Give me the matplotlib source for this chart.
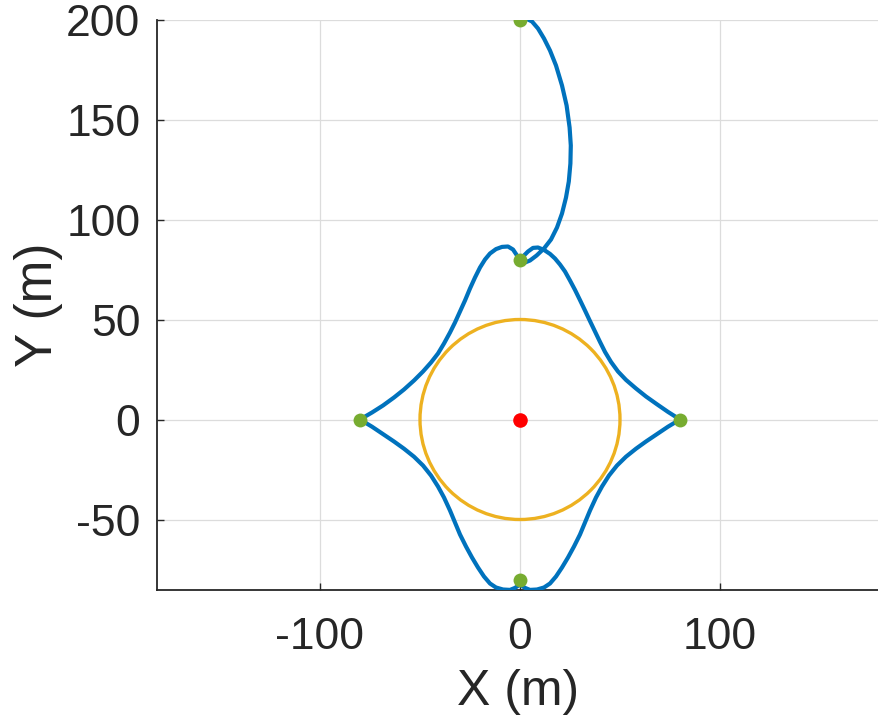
import matplotlib.pyplot as plt
from matplotlib.patches import Circle

plt.rcParams['font.family'] = ['Liberation Sans', 'DejaVu Sans']
plt.rcParams['axes.unicode_minus'] = False

# trajectory: approach from the top, then one lap round the four waypoints
path_x = [0, 3, 6, 9, 12, 15, 18, 21, 23.3, 24.8, 25.4, 25.2, 24.4, 23, 21, 18.5,
          15.5, 12, 8.3, 5, 2.5, 0.5, -1.5, -3.5, -6, -9, -12, -15, -17.5, -20,
          -22.5, -25, -27.5, -30, -32.5, -35, -38, -41, -44.5, -48.5, -53, -58,
          -63, -68.5, -74, -80,
          -74, -68.5, -63, -58, -53, -48.5, -44.5, -41, -38, -35, -32.5, -30, -27,
          -24, -21, -18, -15, -12, -8.5, -5, -2.5, 0, 2.5, 5, 8.5, 12, 15, 18, 21,
          24, 27, 30, 32.5, 35, 38, 41, 44.5, 48.5, 53, 58, 63, 68.5, 74, 80,
          74, 68.5, 63, 58, 53, 49, 45.5, 42.5, 40, 37.5, 35, 32.5, 30, 27.5, 25,
          22.5, 20, 17.5, 15, 12, 9, 6.5, 4, 2, 0.5]
path_y = [200, 200.5, 199, 195.5, 190.5, 184.5, 177, 167, 157, 146, 137, 128,
          119, 111, 103, 96, 90, 85.5, 82, 79.5, 78.5, 79.5, 82, 85, 86.5, 86.3,
          85.2, 83, 80, 76, 71, 65.5, 59.5, 54, 48.5, 43.5, 38, 33, 28.5, 24,
          19.5, 15, 11, 7, 3.5, 0,
          -3.6, -7.3, -11, -14.6, -18.6, -23, -28, -33.5, -39, -45.5, -51.5, -57.5,
          -63.5, -69, -74, -78.5, -82, -84, -85, -85.2, -84.2, -82.5, -84.2, -85.2,
          -85, -84, -82, -78.5, -74, -69, -63.5, -57.5, -51.5, -45.5, -39, -33.5,
          -28, -23, -18.6, -14.6, -11, -7.3, -3.6, 0,
          3.8, 7.6, 11.5, 15.5, 19.8, 24, 28.8, 33.8, 38.8, 44, 49.2, 54.5, 59.7,
          64.8, 69.5, 74, 77.5, 80.5, 82.8, 84.8, 86, 85.8, 84, 82, 81]

# waypoints, target and safety radius
wp_x = [0, 0, -80, 80, 0]
wp_y = [200, 80, 0, 0, -80]
target = (0, 0)
radius = 50

fig = plt.figure(figsize=(8.79, 7.24), dpi=100)
ax = fig.add_axes([157 / 879, 134 / 724, 722 / 879, 571 / 724])

ax.add_patch(Circle(target, radius, fill=False, edgecolor='#EDB120', lw=2.4, zorder=3))
ax.plot(path_x, path_y, color='#0072BD', lw=3.0, zorder=4,
        solid_joinstyle='round', solid_capstyle='round')
ax.plot(wp_x, wp_y, 'o', color='#77AC30', ms=10, mec='none', zorder=5)
ax.plot(*target, 'o', color='red', ms=10.5, mec='none', zorder=5)

ax.set_xlim(-181.5, 179.5)
ax.set_ylim(-85, 200)
ax.set_aspect('equal', adjustable='box')
ax.set_xticks([-100, 0, 100])
ax.set_yticks([-50, 0, 50, 100, 150, 200])

ax.grid(True, color='#dcdcdc', lw=0.9)
ax.set_axisbelow(True)
for side in ['top', 'right']:
    ax.spines[side].set_visible(False)
for side in ['left', 'bottom']:
    ax.spines[side].set_color('#262626')
    ax.spines[side].set_linewidth(1.3)
ax.tick_params(direction='in', length=5, width=1, colors='#262626', labelsize=32)
ax.tick_params(axis='x', pad=20)
ax.tick_params(axis='y', pad=12)

ax.set_xlabel('X (m)', fontsize=36, color='#262626', labelpad=8)
ax.set_ylabel('Y (m)', fontsize=37, color='#262626', labelpad=2)

fig.savefig('out.png', dpi=100)
